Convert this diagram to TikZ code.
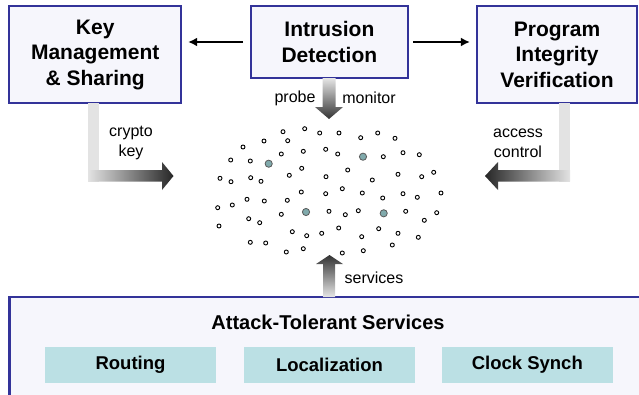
\documentclass[tikz,border=0pt]{standalone}
\usepackage{fontspec}
\setmainfont{Liberation Sans}
\usetikzlibrary{arrows.meta, positioning}

\definecolor{boxblue}{RGB}{51,51,153}
\definecolor{boxfill}{RGB}{246,246,252}
\definecolor{svcteal}{RGB}{187,224,228}
\definecolor{headteal}{RGB}{128,170,172}

\begin{document}
\begin{tikzpicture}[x=1pt, y=-1pt, >={Latex[length=9pt,width=9pt]},
    panel/.style={draw=boxblue, line width=2.2pt, fill=boxfill},
    modbox/.style={panel, align=center, inner sep=0pt,
        font=\fontsize{21}{25.5}\selectfont\bfseries},
    svcbox/.style={fill=svcteal, minimum width=171pt, minimum height=36pt,
        inner sep=0pt, font=\fontsize{18.5}{22}\selectfont\bfseries},
    lbl/.style={align=center, inner sep=0pt, font=\fontsize{16}{20}\selectfont},
    sensor/.style={draw=black, line width=0.9pt, fill=white},
    clusterhead/.style={draw=gray!70!black, line width=0.8pt, fill=headteal}]

    \useasboundingbox (0,0) rectangle (639,394);
    \clip (0,0) rectangle (639,394);

    % =================================================================
    % 1. SECURITY MODULES (TOP ROW)
    % =================================================================
    \node[modbox, minimum width=171.7pt, minimum height=97pt]
        (keymgmt) at (95.2,54.5) {Key\\Management\\\& Sharing};
    \node[modbox, minimum width=157.3pt, minimum height=72pt]
        (intrusion) at (329.4,42) {Intrusion\\Detection};
    \node[modbox, minimum width=160pt, minimum height=97pt]
        (integrity) at (557,54.5) {Program\\Integrity\\Verification};

    % Arrows out of intrusion detection
    \draw[->, line width=2.1pt, shorten <=6.6pt, shorten >=6pt]
        (intrusion.west) -- (keymgmt.east |- intrusion.west);
    \draw[->, line width=2.1pt, shorten <=4pt, shorten >=6pt]
        (intrusion.east) -- (integrity.west |- intrusion.east);

    % =================================================================
    % 2. ATTACK-TOLERANT SERVICES (BOTTOM)
    % =================================================================
    \draw[panel] (9.5,297) rectangle (660,420);
    \node[font=\fontsize{20}{24}\selectfont\bfseries]
        (ats) at (328,322) {Attack-Tolerant Services};

    \node[svcbox] (routing) at (130.5,365) {Routing};
    \node[svcbox] (localization) at (329.5,365) {Localization};
    \node[svcbox, minimum width=170.7pt] (clocksync) at (527.3,365) {Clock Synch};

    % =================================================================
    % 3. BLOCK ARROWS (GRADIENT)
    % =================================================================
    % crypto key
    \fill[gray!22] (88,103) rectangle (99,181.5);
    \shade[left color=gray!22, right color=black!85]
        (88,170) -- (162,170) -- (162,162) -- (173.5,176) -- (162,190)
        -- (162,181.5) -- (88,181.5) -- cycle;

    % access control
    \fill[gray!22] (559,103) rectangle (570,181.5);
    \shade[left color=black!85, right color=gray!22]
        (570,170) -- (498,170) -- (498,162) -- (485,176) -- (498,190)
        -- (498,181.5) -- (570,181.5) -- cycle;

    % probe / monitor
    \shade[top color=gray!20, bottom color=black!80]
        (322.5,78) -- (335.5,78) -- (335.5,107) -- (343,107) -- (329,119)
        -- (315,107) -- (322.5,107) -- cycle;

    % services
    \shade[top color=black!80, bottom color=gray!20]
        (323,297) -- (335,297) -- (335,264) -- (343,264) -- (329.5,255)
        -- (316,264) -- (323,264) -- cycle;

    % Labels on the arrows
    \node[lbl] (crypto) at (131,143) {crypto\\key};
    \node[lbl] (access) at (518,143) {access\\control};
    \node[lbl] (probe) at (295,98) {probe};
    \node[lbl] (monitor) at (369,98) {monitor};
    \node[lbl] (services) at (374,278) {services};

    % =================================================================
    % 4. SENSOR FIELD
    % =================================================================
    \foreach \x/\y in {283/131.7, 304.7/128.7, 319.7/133, 339/133, 360.7/137.7,
        377.7/133, 395/138.3, 243/147, 264/141, 287.7/140.7, 281.3/154,
        303.3/151.3, 325.7/149.3, 337.7/154, 383.3/156.7, 403/152.7,
        419.3/154.7, 230.7/160, 250.3/161, 289.3/175.3, 301.7/168.3,
        347.7/170, 326/176.7, 372.3/180, 398/174.3, 421.7/176.7, 433.7/172.3,
        220/178.3, 231/181.7, 250.7/177.7, 261/181.3, 301.3/192, 325.7/193.7,
        342.3/188.7, 362.3/193, 382.7/198, 403/193.7, 417.3/197.3, 441/193,
        217.7/207.7, 232.3/205, 247/199.3, 264.3/201, 287.3/200.3,
        281.3/214.3, 329/211.3, 345.3/214.7, 358.3/210.7, 405.7/211.3,
        436.7/212.7, 424.3/220.3, 248.7/218.7, 259.7/222.7, 219/226,
        292.3/231.7, 306.7/235.7, 321.7/233.3, 338.7/228, 361.7/236.7,
        378.7/228.7, 398/233.3, 418.3/237.3, 250.3/242.3, 265.7/243,
        286.3/252, 303.3/248.7, 342.3/253, 363.3/250.7, 392.3/245}
        \draw[sensor] (\x,\y) circle (2pt);

    % Cluster heads
    \foreach \x/\y in {268.7/163.7, 363/156.7, 306/212, 383.7/213.3}
        \draw[clusterhead] (\x,\y) circle (3.6pt);

\end{tikzpicture}
\end{document}
